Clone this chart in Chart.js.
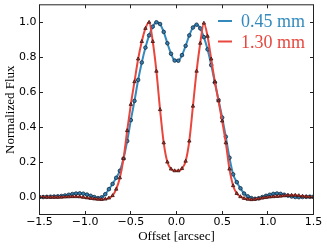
<!DOCTYPE html>
<html>
<head>
<meta charset="utf-8">
<script src="https://cdn.jsdelivr.net/npm/chart.js@4/dist/chart.umd.min.js"></script>
<style>
  html, body { margin: 0; padding: 0; background: #fff; }
  canvas { display: block; }
</style>
</head>
<body>
<canvas id="fluxChart" width="327" height="249"></canvas>
<script>
//Offsets (arcsec)
const offsets = [
    -1.50, -1.46, -1.42, -1.38, -1.34, -1.30, -1.26, -1.22, -1.18, -1.14,
    -1.10, -1.06, -1.02, -0.98, -0.94, -0.90, -0.86, -0.82, -0.78, -0.74,
    -0.70, -0.66, -0.62, -0.58, -0.54, -0.50, -0.46, -0.42, -0.38, -0.34,
    -0.30, -0.26, -0.22, -0.18, -0.14, -0.10, -0.06, -0.02, 0.02, 0.06,
    0.10, 0.14, 0.18, 0.22, 0.26, 0.30, 0.34, 0.38, 0.42, 0.46,
    0.50, 0.54, 0.58, 0.62, 0.66, 0.70, 0.74, 0.78, 0.82, 0.86,
    0.90, 0.94, 0.98, 1.02, 1.06, 1.10, 1.14, 1.18, 1.22, 1.26,
    1.30, 1.34, 1.38, 1.42, 1.46, 1.50
];

//Normalized flux, 0.45 mm
const flux045 = [
    0.000, 0.000, 0.001, 0.002, 0.003, 0.004, 0.006, 0.009, 0.013, 0.017,
    0.020, 0.021, 0.019, 0.014, 0.007, 0.000, -0.006, -0.002, 0.016, 0.045,
    0.075, 0.110, 0.150, 0.220, 0.320, 0.440, 0.550, 0.670, 0.770, 0.855,
    0.925, 0.975, 1.000, 0.990, 0.945, 0.880, 0.820, 0.781, 0.780, 0.812,
    0.865, 0.925, 0.970, 0.986, 0.965, 0.915, 0.845, 0.755, 0.655, 0.555,
    0.455, 0.345, 0.225, 0.130, 0.085, 0.050, 0.020, 0.004, -0.006, -0.010,
    -0.007, 0.000, 0.007, 0.013, 0.018, 0.020, 0.018, 0.013, 0.008, 0.003,
    0.000, -0.001, 0.000, 0.001, 0.002, 0.002
];

//Normalized flux, 1.30 mm
const flux130 = [
    0.000, 0.000, -0.001, -0.002, -0.002, -0.002, -0.001, 0.000, 0.001, 0.002,
    0.002, 0.001, -0.002, -0.005, -0.008, -0.011, -0.013, -0.014, -0.012, -0.006,
    0.008, 0.045, 0.110, 0.220, 0.380, 0.530, 0.660, 0.790, 0.890, 0.965,
    1.000, 0.890, 0.720, 0.500, 0.310, 0.200, 0.160, 0.150, 0.150, 0.163,
    0.205, 0.320, 0.520, 0.720, 0.880, 0.995, 0.920, 0.790, 0.660, 0.550,
    0.435, 0.310, 0.160, 0.065, 0.020, 0.002, -0.008, -0.013, -0.015, -0.013,
    -0.010, -0.006, -0.003, 0.000, 0.002, 0.003, 0.005, 0.007, 0.009, 0.010,
    0.010, 0.008, 0.005, 0.002, 0.000, -0.001
];

//Ticks
const xTicks = [-1.5, -1.0, -0.5, 0.0, 0.5, 1.0, 1.5];
const yTicks = [0.0, 0.2, 0.4, 0.6, 0.8, 1.0];

//Series labels
const seriesLabels = ["0.45 mm", "1.30 mm"];

const blue = "#348abd";
const red = "#e8473e";

//Number format with a real minus sign
function fmt(v) {
    return v < 0 ? "\u2212" + Math.abs(v).toFixed(1) : v.toFixed(1);
}

function toPoints(values) {
    return offsets.map((x, i) => ({ x: x, y: values[i] }));
}

//Frame, inward ticks and legend
const framePlugin = {

    id: "frame",

    afterDatasetsDraw(chart) {

        const { ctx, chartArea: a, scales: { x, y } } = chart;
        const len = 3.5;

        ctx.save();
        ctx.strokeStyle = "#222";
        ctx.lineWidth = 1;
        ctx.strokeRect(a.left, a.top, a.right - a.left, a.bottom - a.top);

        ctx.beginPath();
        xTicks.forEach(v => {
            const px = Math.round(x.getPixelForValue(v) - 0.5) + 0.5;
            ctx.moveTo(px, a.bottom);
            ctx.lineTo(px, a.bottom - len);
            ctx.moveTo(px, a.top);
            ctx.lineTo(px, a.top + len);
        });
        yTicks.forEach(v => {
            const py = Math.round(y.getPixelForValue(v) - 0.5) + 0.5;
            ctx.moveTo(a.left, py);
            ctx.lineTo(a.left + len, py);
            ctx.moveTo(a.right, py);
            ctx.lineTo(a.right - len, py);
        });
        ctx.stroke();

        //Legend
        const colors = [blue, red];
        ctx.font = '18px "Liberation Serif"';
        ctx.textBaseline = "alphabetic";
        ctx.textAlign = "left";
        seriesLabels.forEach((label, i) => {
            const ly = 21 + i * 20.5;
            ctx.strokeStyle = colors[i];
            ctx.lineWidth = 2;
            ctx.beginPath();
            ctx.moveTo(218, ly);
            ctx.lineTo(232, ly);
            ctx.stroke();
            ctx.fillStyle = colors[i];
            ctx.fillText(label, 241, ly + 6);
        });

        ctx.restore();

    }

};

const tickFont = { family: "DejaVu Sans", size: 11 };
const titleFont = { family: "Liberation Serif", size: 13 };

new Chart(document.querySelector("#fluxChart"), {

    type: "line",

    data: {

        datasets: [
            {
                label: seriesLabels[0],
                data: toPoints(flux045),
                borderColor: blue,
                borderWidth: 2,
                pointStyle: "circle",
                pointRadius: 1.8,
                pointBackgroundColor: "#2f7fb3",
                pointBorderColor: "#15293d",
                pointBorderWidth: 0.8,
                cubicInterpolationMode: "monotone",
                order: 1
            },
            {
                label: seriesLabels[1],
                data: toPoints(flux130),
                borderColor: red,
                borderWidth: 2,
                pointStyle: "triangle",
                pointRadius: 2,
                pointBackgroundColor: "#b3362c",
                pointBorderColor: "#2e0c0a",
                pointBorderWidth: 0.7,
                cubicInterpolationMode: "monotone",
                order: 0
            }
        ]

    },

    options: {

        responsive: false,
        animation: false,
        devicePixelRatio: 1,

        layout: {
            padding: { left: 0, right: 13.5, top: 4.5, bottom: 0 }
        },

        plugins: {
            legend: { display: false },
            tooltip: { enabled: false }
        },

        scales: {

            x: {
                type: "linear",
                min: -1.5,
                max: 1.5,
                afterBuildTicks: s => { s.ticks = xTicks.map(v => ({ value: v })); },
                afterFit: s => { s.height = 34.5; s.paddingLeft = 0; s.paddingRight = 0; },
                ticks: {
                    callback: v => fmt(v),
                    font: tickFont,
                    color: "#000",
                    padding: 1,
                    maxRotation: 0,
                    autoSkip: false
                },
                grid: { display: false, drawTicks: false },
                border: { display: false },
                title: {
                    display: true,
                    text: "Offset [arcsec]",
                    font: titleFont,
                    color: "#000",
                    padding: { top: 0, bottom: 5 }
                }
            },

            y: {
                type: "linear",
                min: -0.1,
                max: 1.1,
                afterBuildTicks: s => { s.ticks = yTicks.map(v => ({ value: v })); },
                afterFit: s => { s.width = 39.5; s.paddingTop = 0; s.paddingBottom = 0; },
                ticks: {
                    callback: v => fmt(v),
                    font: tickFont,
                    color: "#000",
                    padding: 3
                },
                grid: { display: false, drawTicks: false },
                border: { display: false },
                title: {
                    display: true,
                    text: "Normalized Flux",
                    font: titleFont,
                    color: "#000",
                    padding: { top: 3, bottom: 0 }
                }
            }

        }

    },

    plugins: [framePlugin]

});
</script>
</body>
</html>
